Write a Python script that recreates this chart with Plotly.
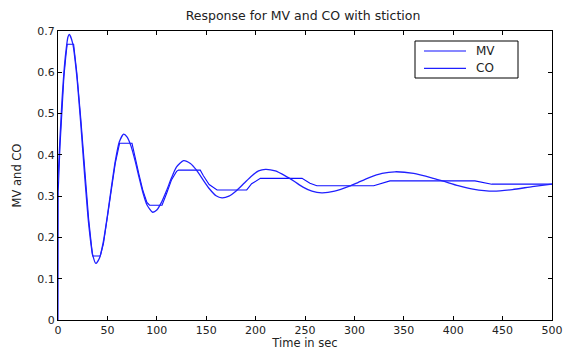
import plotly.graph_objects as go

# CO (controller output) - smooth damped oscillation
co_t = [0, 2, 4, 6, 8, 10, 11.5, 15, 19, 23, 27, 31, 35, 38.4, 42, 46, 50, 54, 58, 62, 66.4,
        70, 74, 78, 82, 86, 90, 95.8, 100, 105, 110, 115, 120, 127.1, 134, 140, 147, 153, 160,
        166, 173, 180, 188, 196, 203, 210, 220, 230, 239, 248, 257, 267, 280, 295, 304, 315,
        328, 341, 360, 380, 391, 405, 420, 441, 460, 480, 500]
co_v = [0.34, 0.44, 0.53, 0.60, 0.65, 0.685, 0.692, 0.669, 0.592, 0.477, 0.349, 0.234, 0.159,
        0.137, 0.150, 0.191, 0.252, 0.321, 0.385, 0.431, 0.450,
        0.443, 0.4205, 0.386, 0.346, 0.308, 0.279, 0.261, 0.2665, 0.286, 0.314, 0.345, 0.371,
        0.386, 0.379, 0.3635, 0.339, 0.3185, 0.301,
        0.296, 0.300, 0.312, 0.3305, 0.349, 0.361, 0.365, 0.361, 0.349, 0.336, 0.322, 0.312,
        0.308, 0.312, 0.324, 0.3335, 0.345, 0.355, 0.359, 0.355, 0.343, 0.3355, 0.3255, 0.317,
        0.312, 0.316, 0.323, 0.329]

# MV (manipulated variable / valve position) - sticky, with flat segments
mv_t = [0, 0.2, 2, 4, 6, 8, 9.3, 15.8, 19, 23, 27, 31, 35, 42.8, 46, 50, 54, 58, 62.3, 74.9,
        78, 82, 86, 90, 92.7, 105.3, 110, 115, 120, 122, 144, 147, 153, 161, 191, 196, 204.8,
        247, 255, 262, 319.5, 336, 422, 439, 500]
mv_v = [0.0, 0.31, 0.42, 0.52, 0.59, 0.64, 0.668, 0.668, 0.60, 0.49, 0.36, 0.245, 0.155, 0.155,
        0.185, 0.245, 0.315, 0.38, 0.428, 0.428,
        0.392, 0.352, 0.313, 0.285, 0.278, 0.278, 0.307, 0.34, 0.36, 0.363, 0.363, 0.35, 0.328,
        0.315, 0.315, 0.33, 0.343,
        0.343, 0.331, 0.325, 0.325, 0.337, 0.337, 0.329, 0.329]

x_ticks = [0, 50, 100, 150, 200, 250, 300, 350, 400, 450, 500]
y_ticks = [0, 0.1, 0.2, 0.3, 0.4, 0.5, 0.6, 0.7]
series_names = ["MV", "CO"]
series_colors = ["#1010ff", "#2020ff"]
series_widths = [1.1, 1.3]

fig = go.Figure()
fig.add_trace(go.Scatter(x=mv_t, y=mv_v, mode="lines", name=series_names[0],
                         showlegend=False,
                         line=dict(color=series_colors[0], width=series_widths[0])))
fig.add_trace(go.Scatter(x=co_t, y=co_v, mode="lines", name=series_names[1],
                         showlegend=False,
                         line=dict(color=series_colors[1], width=series_widths[1],
                                   shape="spline", smoothing=0.6)))

font = "DejaVu Sans, Verdana, sans-serif"
axis_common = dict(showline=True, linecolor="black", linewidth=1, mirror="ticks",
                   ticks="inside", ticklen=4, tickcolor="black", showgrid=False,
                   zeroline=False, automargin=False,
                   tickfont=dict(family=font, size=11, color="#222"))

# plot area in pixels: x 58..552, y 31..320
def px(x):
    return (x - 58) / 494

def py(y):
    return (320 - y) / 289

# MATLAB-style legend box
shapes = [dict(type="rect", xref="paper", yref="paper",
               x0=px(415), x1=px(518), y0=py(78), y1=py(41),
               line=dict(color="black", width=1), fillcolor="white", layer="above")]
annotations = []
for i, (nm, col, w) in enumerate(zip(series_names, series_colors, series_widths)):
    yy = 51 + i * 17.3
    shapes.append(dict(type="line", xref="paper", yref="paper",
                       x0=px(424), x1=px(466), y0=py(yy), y1=py(yy),
                       line=dict(color=col, width=w), layer="above"))
    annotations.append(dict(text=nm, xref="paper", yref="paper", x=px(474), y=py(yy),
                            xanchor="left", yanchor="middle", showarrow=False,
                            font=dict(family=font, size=12, color="#222")))

fig.update_layout(
    width=563, height=350,
    margin=dict(l=58, r=11, t=31, b=30),
    paper_bgcolor="white", plot_bgcolor="white",
    title=dict(text="Response for MV and CO with stiction", x=303 / 563,
               xanchor="center", y=1 - 16 / 350, yanchor="middle",
               font=dict(family=font, size=12.5, color="#222")),
    xaxis=dict(range=[0, 500], tickvals=x_ticks, **axis_common,
               title=dict(text="Time in sec", standoff=3,
                          font=dict(family=font, size=11.5, color="#222"))),
    yaxis=dict(range=[0, 0.7], tickvals=y_ticks, **axis_common,
               title=dict(text="MV and CO", standoff=13,
                          font=dict(family=font, size=11.5, color="#222"))),
    shapes=shapes,
    annotations=annotations,
    showlegend=False,
)

fig.write_html("out.html")
